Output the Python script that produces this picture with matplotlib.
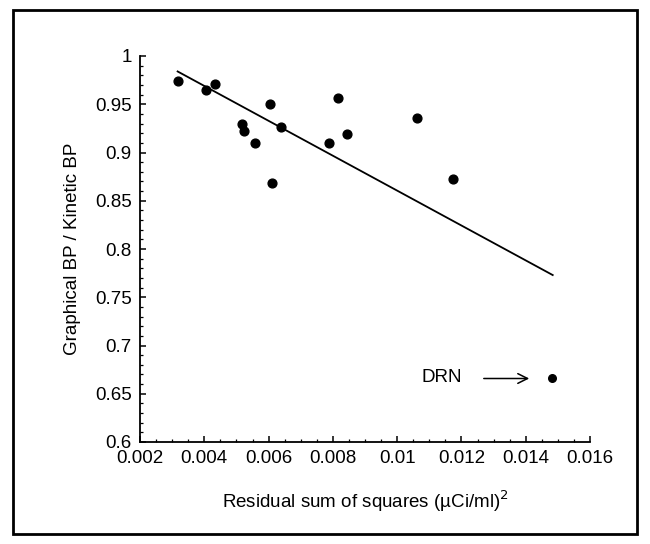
import matplotlib
matplotlib.use("Agg")
import matplotlib.pyplot as plt
from matplotlib.ticker import MultipleLocator, FixedLocator, FixedFormatter
from matplotlib.patches import Rectangle, FancyArrowPatch

plt.rcParams['font.family'] = ['Liberation Sans', 'DejaVu Sans']

# Data
rss = [0.00317, 0.00405, 0.00433, 0.00516, 0.00523, 0.00558, 0.00604, 0.00611,
       0.00639, 0.00787, 0.00816, 0.00844, 0.01061, 0.01173]
ratio = [0.974, 0.965, 0.971, 0.930, 0.922, 0.910, 0.950, 0.868,
         0.926, 0.910, 0.956, 0.919, 0.936, 0.873]
drn_x = [0.01481]
drn_y = [0.666]
fit_x = [0.00317, 0.01484]
fit_y = [0.984, 0.773]

xticks = [0.002, 0.004, 0.006, 0.008, 0.010, 0.012, 0.014, 0.016]
xticklabels = ["0.002", "0.004", "0.006", "0.008", "0.01", "0.012", "0.014", "0.016"]
yticks = [0.6, 0.65, 0.7, 0.75, 0.8, 0.85, 0.9, 0.95, 1.0]
yticklabels = ["0.6", "0.65", "0.7", "0.75", "0.8", "0.85", "0.9", "0.95", "1"]

W, H = 650, 544
fig = plt.figure(figsize=(6.5, 5.44), dpi=100)
ax = fig.add_axes([140 / W, (H - 442) / H, 450 / W, (442 - 56) / H])

ax.plot(fit_x, fit_y, color='black', lw=1.3)
ax.scatter(rss, ratio, s=40, color='black', zorder=3)
ax.scatter(drn_x, drn_y, s=30, color='black', zorder=3)

ax.set_xlim(0.002, 0.016)
ax.set_ylim(0.6, 1.0)
ax.xaxis.set_major_locator(FixedLocator(xticks))
ax.xaxis.set_major_formatter(FixedFormatter(xticklabels))
ax.yaxis.set_major_locator(FixedLocator(yticks))
ax.yaxis.set_major_formatter(FixedFormatter(yticklabels))
ax.xaxis.set_minor_locator(MultipleLocator(0.0005))
ax.yaxis.set_minor_locator(MultipleLocator(0.01))

for s in ['top', 'right']:
    ax.spines[s].set_visible(False)
for s in ['left', 'bottom']:
    ax.spines[s].set_linewidth(1.3)

ax.tick_params(axis='both', which='major', direction='in', length=4.5, width=1.1,
               labelsize=13.5)
ax.tick_params(axis='both', which='minor', direction='in', length=2.5, width=0.9)
ax.tick_params(axis='y', which='major', pad=6)
ax.tick_params(axis='x', which='major', pad=5.5)

ax.set_ylabel("Graphical BP / Kinetic BP", fontsize=13.5, labelpad=10)
ax.set_xlabel("Residual sum of squares (\u00b5Ci/ml)$^2$", fontsize=13.5, labelpad=16)

fig.text(442 / W, 1 - 378 / H, "DRN", ha='center', va='center', fontsize=13.5)
fig.add_artist(FancyArrowPatch(
    (481 / W, 1 - 378.5 / H), (532 / W, 1 - 378.5 / H), transform=fig.transFigure,
    arrowstyle='->,head_length=7,head_width=3.5', color='black', lw=1.1,
    mutation_scale=1))

fig.add_artist(Rectangle((13 / W, 1 - 534 / H), (637 - 13) / W, (534 - 10) / H,
                         transform=fig.transFigure, fill=False, lw=2.0,
                         edgecolor='black'))

fig.savefig("out.png", dpi=100)
